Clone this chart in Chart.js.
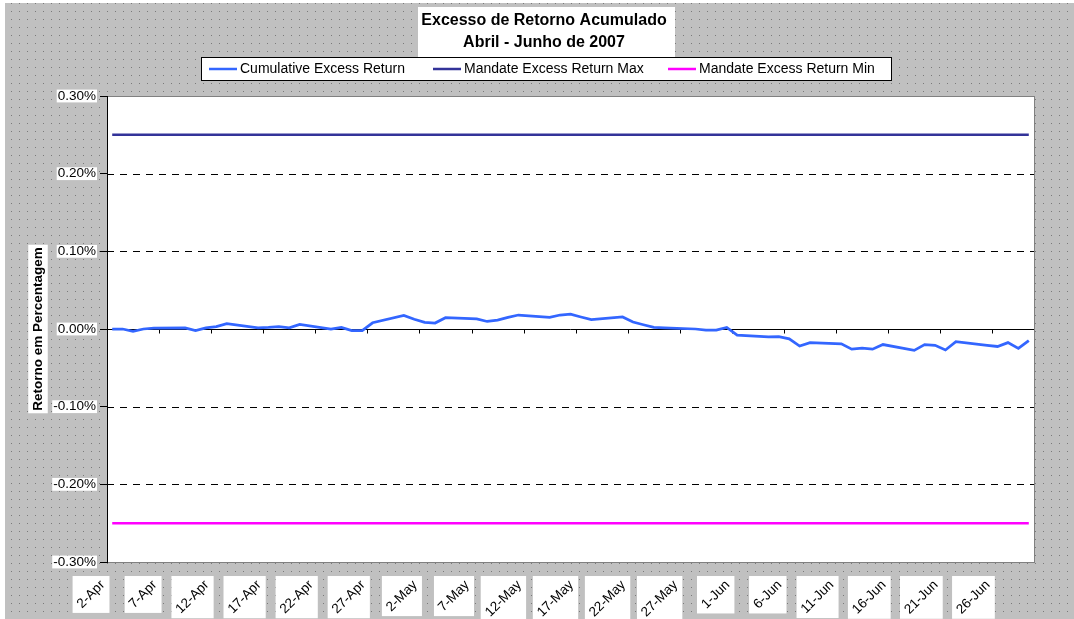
<!DOCTYPE html>
<html>
<head>
<meta charset="utf-8">
<script src="https://cdn.jsdelivr.net/npm/chart.js@4.4.0/dist/chart.umd.min.js"></script>
<style>
  body { margin: 0; background: #fff; }
  #wrap { position: relative; width: 1074px; height: 619px; }
</style>
</head>
<body>
<div id="wrap"><canvas id="myChart"></canvas></div>
<script>
// chart texts
const titleLines = ["Excesso de Retorno Acumulado", "Abril - Junho de 2007"];
const yAxisTitle = "Retorno em Percentagem";
const seriesNames = ["Cumulative Excess Return", "Mandate Excess Return Max", "Mandate Excess Return Min"];

// trading days and cumulative excess return (in %)
const startDate = "2007-04-02";
const dates = [
  "2007-04-02", "2007-04-03", "2007-04-04", "2007-04-05", "2007-04-06",
  "2007-04-09", "2007-04-10", "2007-04-11", "2007-04-12", "2007-04-13",
  "2007-04-16", "2007-04-17", "2007-04-18", "2007-04-19", "2007-04-20",
  "2007-04-23", "2007-04-24", "2007-04-25", "2007-04-26", "2007-04-27",
  "2007-04-30", "2007-05-01", "2007-05-02", "2007-05-03", "2007-05-04",
  "2007-05-07", "2007-05-08", "2007-05-09", "2007-05-10", "2007-05-11",
  "2007-05-14", "2007-05-15", "2007-05-16", "2007-05-17", "2007-05-18",
  "2007-05-21", "2007-05-22", "2007-05-23", "2007-05-24", "2007-05-25",
  "2007-05-28", "2007-05-29", "2007-05-30", "2007-05-31", "2007-06-01",
  "2007-06-04", "2007-06-05", "2007-06-06", "2007-06-07", "2007-06-08",
  "2007-06-11", "2007-06-12", "2007-06-13", "2007-06-14", "2007-06-15",
  "2007-06-18", "2007-06-19", "2007-06-20", "2007-06-21", "2007-06-22",
  "2007-06-25", "2007-06-26", "2007-06-27", "2007-06-28", "2007-06-29"
];
const excessReturn = [
  0.000, 0.000, -0.003, 0.000, 0.001,
  0.0015, -0.002, 0.0015, 0.003, 0.007,
  0.0015, 0.002, 0.003, 0.0015, 0.006,
  0.000, 0.002, -0.002, -0.002, 0.008,
  0.0175, 0.0125, 0.0085, 0.0077, 0.0146,
  0.013, 0.0097, 0.0115, 0.015, 0.018,
  0.015, 0.018, 0.019, 0.0155, 0.012,
  0.0155, 0.009, 0.0055, 0.002, 0.0015,
  0.000, -0.0015, -0.0015, 0.002, -0.008,
  -0.010, -0.0097, -0.0127, -0.022, -0.0175,
  -0.019, -0.026, -0.0245, -0.026, -0.020,
  -0.0275, -0.020, -0.021, -0.027, -0.0163,
  -0.021, -0.0225, -0.0175, -0.025, -0.015
];
const mandateMax = 0.25;
const mandateMin = -0.25;

// axes
const yTicks = [-0.3, -0.2, -0.1, 0, 0.1, 0.2, 0.3];
const xTickLabels = ["2-Apr", "7-Apr", "12-Apr", "17-Apr", "22-Apr", "27-Apr", "2-May", "7-May", "12-May",
  "17-May", "22-May", "27-May", "1-Jun", "6-Jun", "11-Jun", "16-Jun", "21-Jun", "26-Jun"];
const xTickStep = 5;
const axisDays = 89;

const FONT = "Arial, 'Liberation Sans', sans-serif";
const colors = ["#3366ff", "#333399", "#ff00ff"];

function dayOffset(d) {
  return (Date.parse(d) - Date.parse(startDate)) / 86400000;
}
// points sit in the middle of each day slot
function points(vals) {
  return dates.map((d, i) => ({ x: dayOffset(d) + 0.5, y: vals[i] }));
}
function flat(v) {
  return dates.map(d => ({ x: dayOffset(d) + 0.5, y: v }));
}

// dotted gray background
const tile = document.createElement("canvas");
tile.width = 8; tile.height = 8;
const tctx = tile.getContext("2d");
tctx.fillStyle = "#c0c0c0";
tctx.fillRect(0, 0, 8, 8);
tctx.fillStyle = "#7a7a7a";
tctx.fillRect(3, 3, 1, 1);

//text with a white box behind it
function boxedText(ctx, text, x, y, angle, align, h, padX, padY) {
  const w = ctx.measureText(text).width;
  const x0 = align === "right" ? -w : (align === "center" ? -w / 2 : 0);
  const c = Math.cos(angle), s = Math.sin(angle);
  let minX = Infinity, maxX = -Infinity, minY = Infinity, maxY = -Infinity;
  [[x0, -h / 2], [x0 + w, -h / 2], [x0, h / 2], [x0 + w, h / 2]].forEach(p => {
    const rx = x + p[0] * c - p[1] * s;
    const ry = y + p[0] * s + p[1] * c;
    minX = Math.min(minX, rx); maxX = Math.max(maxX, rx);
    minY = Math.min(minY, ry); maxY = Math.max(maxY, ry);
  });
  ctx.fillStyle = "#fff";
  ctx.fillRect(minX - padX, minY - padY, maxX - minX + 2 * padX, maxY - minY + 2 * padY);
  ctx.save();
  ctx.translate(x, y);
  ctx.rotate(angle);
  ctx.textAlign = align;
  ctx.textBaseline = "middle";
  ctx.fillStyle = "#000";
  ctx.fillText(text, 0, 0);
  ctx.restore();
}

const backgroundPlugin = {
  id: "excelLook",
  beforeDraw(chart) {
    const ctx = chart.ctx;
    const area = chart.chartArea;
    const xs = chart.scales.x, ys = chart.scales.y;
    ctx.save();
    ctx.fillStyle = "#fff";
    ctx.fillRect(0, 0, chart.width, chart.height);
    ctx.fillStyle = ctx.createPattern(tile, "repeat");
    ctx.fillRect(5, 3, chart.width - 5, chart.height - 3);

    // title
    ctx.fillStyle = "#fff";
    ctx.fillRect(418, 7, 257, 51);
    ctx.font = "bold 16px " + FONT;
    ctx.fillStyle = "#000";
    ctx.textAlign = "center";
    ctx.textBaseline = "middle";
    ctx.fillText(titleLines[0], 544, 20.5);
    ctx.fillText(titleLines[1], 544, 43);

    // legend
    ctx.fillStyle = "#fff";
    ctx.fillRect(201, 57, 690, 24);
    ctx.strokeStyle = "#000";
    ctx.lineWidth = 1;
    ctx.strokeRect(201.5, 57.5, 690, 23);
    const legX = [209, 433, 668];
    ctx.font = "14px " + FONT;
    ctx.textAlign = "left";
    seriesNames.forEach((name, i) => {
      ctx.strokeStyle = colors[i];
      ctx.lineWidth = 2.5;
      ctx.beginPath();
      ctx.moveTo(legX[i], 69);
      ctx.lineTo(legX[i] + 28, 69);
      ctx.stroke();
      ctx.fillStyle = "#000";
      ctx.fillText(name, legX[i] + 31, 69);
    });

    // y axis title
    ctx.font = "bold 13.5px " + FONT;
    boxedText(ctx, yAxisTitle, 38, 329, -Math.PI / 2, "center", 13.5, 3, 2.5);

    // plot area
    ctx.fillStyle = "#fff";
    ctx.fillRect(area.left, area.top, area.right - area.left, area.bottom - area.top);
    ctx.strokeStyle = "#808080";
    ctx.lineWidth = 1;
    ctx.strokeRect(area.left + 0.5, area.top + 0.5, area.right - area.left, area.bottom - area.top);

    // dashed grid lines
    ctx.strokeStyle = "#000";
    ctx.setLineDash([7, 6]);
    yTicks.forEach(v => {
      if (v === 0 || v === yTicks[0] || v === yTicks[yTicks.length - 1]) return;
      const y = Math.round(ys.getPixelForValue(v)) + 0.5;
      ctx.beginPath();
      ctx.moveTo(area.left, y);
      ctx.lineTo(area.right, y);
      ctx.stroke();
    });
    ctx.setLineDash([]);

    // category axis crossing at zero
    const y0 = Math.round(ys.getPixelForValue(0)) + 0.5;
    ctx.beginPath();
    ctx.moveTo(area.left, y0);
    ctx.lineTo(area.right, y0);
    xTickLabels.forEach((t, i) => {
      const x = Math.round(xs.getPixelForValue(i * xTickStep)) + 0.5;
      ctx.moveTo(x, y0);
      ctx.lineTo(x, y0 + 4);
    });
    ctx.stroke();

    // x tick labels, rotated, boxed
    ctx.font = "13.5px " + FONT;
    xTickLabels.forEach((t, i) => {
      const x = xs.getPixelForValue(i * xTickStep);
      boxedText(ctx, t, x - 4.3, 582.8, -Math.PI / 4, "right", 13.5, 2, 2);
    });
    ctx.restore();
  }
};

const ctx = document.getElementById("myChart").getContext("2d");
const myChart = new Chart(ctx, {
  type: "line",
  data: {
    datasets: [
      { label: seriesNames[0], data: points(excessReturn), borderColor: colors[0], borderWidth: 2.75,
        pointRadius: 0, tension: 0, fill: false },
      { label: seriesNames[1], data: flat(mandateMax), borderColor: colors[1], borderWidth: 2.5,
        pointRadius: 0, fill: false },
      { label: seriesNames[2], data: flat(mandateMin), borderColor: colors[2], borderWidth: 2.5,
        pointRadius: 0, fill: false }
    ]
  },
  options: {
    responsive: true,
    maintainAspectRatio: false,
    animation: false,
    layout: { padding: { left: 47, top: 96, right: 40, bottom: 57 } },
    plugins: {
      legend: { display: false },
      title: { display: false },
      tooltip: { enabled: false }
    },
    scales: {
      x: { type: "linear", display: false, min: 0, max: axisDays },
      y: {
        min: -0.3,
        max: 0.3,
        afterBuildTicks: s => { s.ticks = yTicks.map(v => ({ value: v })); },
        afterFit: s => { s.width = 60; },
        ticks: {
          callback: v => v.toFixed(2) + "%",
          color: "#000",
          font: { family: FONT, size: 13.5, lineHeight: 0.95 },
          padding: 4,
          showLabelBackdrop: true,
          backdropColor: "#fff",
          backdropPadding: { top: 0, bottom: 0, left: 1, right: 1 }
        },
        grid: { display: true, drawOnChartArea: false, drawTicks: true, tickLength: 7, color: "#000" },
        border: { display: true, color: "#000", width: 1 }
      }
    }
  },
  plugins: [backgroundPlugin]
});
</script>
</body>
</html>
